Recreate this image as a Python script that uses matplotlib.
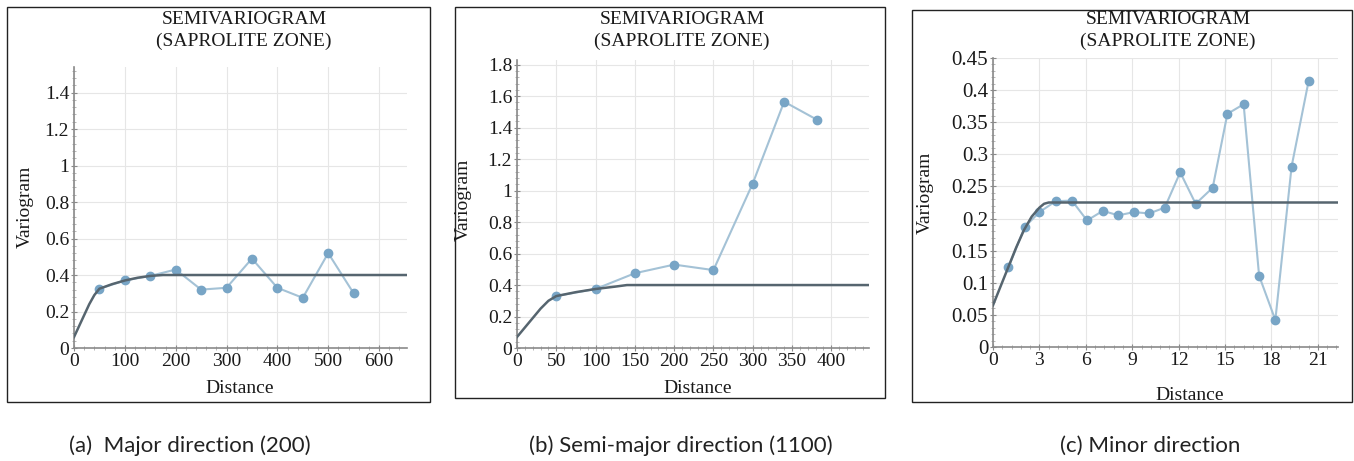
import matplotlib
matplotlib.use("Agg")
import matplotlib.pyplot as plt
from matplotlib.patches import Rectangle
from matplotlib.ticker import MultipleLocator, AutoMinorLocator, FuncFormatter

# (a) major direction
lag_a = [50, 100, 150, 200, 250, 300, 350, 400, 450, 500, 550]
gam_a = [0.325, 0.37, 0.395, 0.43, 0.32, 0.33, 0.49, 0.33, 0.275, 0.52, 0.30]
mod_x_a = [0, 10, 20, 30, 40, 50, 75, 100, 125, 150, 175, 655]
mod_y_a = [0.06, 0.12, 0.18, 0.24, 0.29, 0.325, 0.35, 0.37, 0.385, 0.395, 0.40, 0.40]

# (b) semi-major direction
lag_b = [50, 100, 150, 200, 250, 300, 340, 382]
gam_b = [0.33, 0.375, 0.475, 0.53, 0.495, 1.045, 1.565, 1.45]
mod_x_b = [0, 10, 20, 30, 40, 50, 75, 100, 125, 140, 448]
mod_y_b = [0.07, 0.13, 0.19, 0.25, 0.30, 0.33, 0.355, 0.375, 0.39, 0.40, 0.40]

# (c) minor direction
lag_c = [1.0, 2.05, 3.0, 4.05, 5.1, 6.08, 7.1, 8.1, 9.1, 10.1, 11.1, 12.1, 13.1,
         14.2, 15.15, 16.2, 17.2, 18.25, 19.3, 20.4]
gam_c = [0.124, 0.187, 0.21, 0.227, 0.228, 0.197, 0.212, 0.205, 0.21, 0.208, 0.217,
         0.272, 0.223, 0.248, 0.363, 0.378, 0.111, 0.042, 0.281, 0.414]
mod_x_c = [0, 0.5, 1.0, 1.5, 2.0, 2.5, 3.0, 3.3, 3.6, 22.3]
mod_y_c = [0.065, 0.095, 0.125, 0.155, 0.182, 0.203, 0.217, 0.223, 0.225, 0.225]

captions = ["(a)  Major direction (200)", "(b) Semi-major direction (1100)", "(c) Minor direction"]

plt.rcParams["font.family"] = ["Liberation Serif", "DejaVu Serif"]

W, H = 1354, 461
PT_COL = "#78a5c6"
LN_COL = "#a4c2d6"
MOD_COL = "#56656f"
TXT = "#1a1a1a"

fig = plt.figure(figsize=(W / 100, H / 100), dpi=100)


def px_axes(left, top, right, bottom):
    return fig.add_axes([left / W, 1 - bottom / H, (right - left) / W, (bottom - top) / H])


def fig_text(x, y, s, **kw):
    fig.text(x / W, 1 - y / H, s, **kw)


panels = [
    dict(box=(7, 7, 430, 402), ax=(74, 67, 407, 348), xlim=655, ylim=1.54, xmaj=100, ymaj=0.2,
         lag=lag_a, gam=gam_a, mx=mod_x_a, my=mod_y_a, title_x=244, ylab=(25, 207), xlab=(240, 388),
         cap_x=190, ysize=14),
    dict(box=(455, 7, 885, 398), ax=(517, 60, 869, 348), xlim=448, ylim=1.83, xmaj=50, ymaj=0.2,
         lag=lag_b, gam=gam_b, mx=mod_x_b, my=mod_y_b, title_x=682, ylab=(463, 200), xlab=(698, 388),
         cap_x=681, ysize=14),
    dict(box=(912, 10, 1352, 402), ax=(993, 58, 1338, 347), xlim=22.3, ylim=0.45, xmaj=3, ymaj=0.05,
         lag=lag_c, gam=gam_c, mx=mod_x_c, my=mod_y_c, title_x=1168, ylab=(925, 193), xlab=(1190, 396),
         cap_x=1150, ysize=15),
]

for i, p in enumerate(panels):
    l, t, r, b = p["box"]
    fig.patches.append(Rectangle((l / W, 1 - b / H), (r - l) / W, (b - t) / H,
                                 transform=fig.transFigure, fill=False, ec="#222222", lw=1.0))
    ax = px_axes(*p["ax"])
    ax.plot(p["lag"], p["gam"], color=LN_COL, lw=1.5, marker="o", ms=6,
            mfc=PT_COL, mec=PT_COL, zorder=3)
    ax.plot(p["mx"], p["my"], color=MOD_COL, lw=1.8, zorder=4)
    ax.set_xlim(0, p["xlim"])
    ax.set_ylim(0, p["ylim"])
    ax.xaxis.set_major_locator(MultipleLocator(p["xmaj"]))
    ax.yaxis.set_major_locator(MultipleLocator(p["ymaj"]))
    ax.xaxis.set_minor_locator(AutoMinorLocator(5))
    ax.yaxis.set_minor_locator(AutoMinorLocator(5))
    ax.yaxis.set_major_formatter(FuncFormatter(lambda v, _: f"{v:g}"))
    ax.grid(True, which="major", color="#e6e6e6", lw=0.8)
    ax.set_axisbelow(True)
    for s in ["top", "right"]:
        ax.spines[s].set_visible(False)
    for s in ["left", "bottom"]:
        ax.spines[s].set_color("#8a8a8a")
        ax.spines[s].set_linewidth(1.2)
    ax.tick_params(which="major", direction="inout", length=5, color="#8a8a8a", labelsize=14,
                   labelcolor=TXT, pad=1)
    ax.tick_params(axis="y", which="major", labelsize=p["ysize"])
    ax.tick_params(which="minor", direction="inout", length=3, color="#aaaaaa")

    fig_text(p["title_x"], 19, "SEMIVARIOGRAM", ha="center", va="center", fontsize=14, color=TXT)
    fig_text(p["title_x"], 41, "(SAPROLITE ZONE)", ha="center", va="center", fontsize=14, color=TXT)
    fig_text(p["ylab"][0], p["ylab"][1], "Variogram", ha="center", va="center", rotation=90,
             fontsize=14, color=TXT)
    fig_text(p["xlab"][0], p["xlab"][1], "Distance", ha="center", va="center",
             fontsize=14, color=TXT)
    fig_text(p["cap_x"], 446, captions[i], ha="center", va="center",
             family=["Lato", "DejaVu Sans"], fontsize=16, color="#222222")

fig.savefig("out.png", dpi=100)
